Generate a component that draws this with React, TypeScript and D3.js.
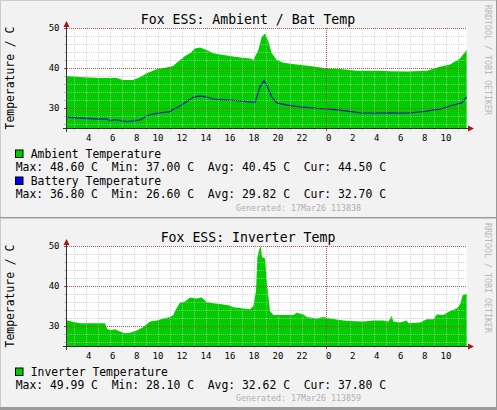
import React from 'react';
import * as d3 from 'd3';

// ---------- data ----------
const ambHours = [2.42, 3.78, 5.17, 6.56, 7.09, 7.92, 8.5, 9.06, 9.9, 10.73, 11.25, 11.84, 12.25, 12.67, 13.09, 13.5, 14.06, 14.61, 15.73, 16.84, 17.67, 17.95, 18.36, 18.65, 18.92, 19.2, 19.48, 19.9, 20.45, 21.56, 22.67, 24.06, 25.17, 26.56, 28.5, 29.34, 30.73, 32.4, 33.5, 34.34, 35.17, 35.72];
const ambTemp = [38.0, 37.7, 37.5, 37.5, 37.0, 37.0, 37.7, 38.7, 39.7, 40.1, 40.5, 42.0, 43.0, 43.7, 44.9, 45.1, 44.5, 43.7, 43.1, 42.6, 42.4, 42.0, 44.5, 47.8, 48.6, 46.6, 43.7, 42.0, 41.3, 40.9, 40.5, 39.9, 39.75, 39.3, 39.3, 39.2, 39.1, 39.3, 40.3, 40.9, 42.4, 44.5];

const batHours = [2.42, 3.23, 5.17, 5.73, 6.01, 6.42, 7.39, 7.95, 8.5, 9.06, 9.61, 10.17, 11.0, 11.28, 11.84, 12.39, 12.95, 13.5, 14.06, 14.61, 15.73, 16.84, 17.39, 18.09, 18.5, 18.84, 19.12, 19.48, 19.9, 20.73, 21.84, 23.23, 24.34, 25.73, 26.84, 27.95, 29.34, 30.73, 32.12, 33.5, 34.61, 35.31, 35.72];
const batTemp = [27.8, 27.5, 27.25, 27.25, 26.8, 27.1, 26.6, 26.8, 27.0, 28.0, 28.5, 28.8, 29.1, 29.7, 30.5, 31.6, 32.7, 33.0, 32.8, 32.2, 32.0, 31.8, 31.6, 31.4, 35.3, 36.8, 35.3, 32.8, 31.3, 30.75, 30.3, 29.9, 29.7, 29.25, 28.8, 28.7, 28.8, 28.7, 29.1, 29.7, 30.75, 31.3, 32.7];

const invHours = [2.42, 2.81, 3.5, 5.17, 5.59, 5.78, 6.14, 6.42, 6.84, 7.25, 7.67, 8.23, 8.78, 9.34, 9.9, 10.45, 11.0, 11.28, 11.42, 11.84, 12.25, 12.67, 13.22, 13.64, 14.06, 14.61, 15.17, 16.0, 16.28, 17.12, 17.67, 17.95, 18.17, 18.28, 18.45, 18.56, 18.67, 18.92, 19.06, 19.34, 19.61, 20.45, 21.28, 21.56, 22.12, 22.39, 23.23, 23.78, 24.34, 25.45, 26.0, 27.12, 27.95, 28.78, 29.2, 29.48, 29.61, 30.17, 30.73, 30.86, 31.84, 32.39, 32.95, 33.23, 33.78, 34.34, 34.89, 35.17, 35.39, 35.72];
const invTemp = [31.4, 31.1, 30.7, 30.7, 30.7, 29.2, 29.0, 29.2, 28.6, 28.2, 28.3, 28.9, 29.75, 31.1, 31.4, 31.85, 32.25, 32.75, 33.75, 35.85, 36.1, 37.1, 36.85, 37.1, 36.0, 35.7, 35.5, 35.1, 34.7, 34.4, 34.2, 35.0, 38.75, 47.1, 49.2, 49.99, 47.25, 46.9, 41.25, 33.75, 32.75, 32.75, 32.75, 33.3, 32.9, 32.25, 31.85, 32.25, 31.9, 31.4, 31.25, 31.1, 31.4, 31.4, 31.1, 32.5, 31.1, 30.85, 31.4, 30.7, 30.85, 31.7, 31.7, 32.9, 32.75, 33.75, 34.4, 35.4, 37.7, 38.1];

const ambStats = [48.6, 37.0, 40.45, 44.5];
const batStats = [36.8, 26.6, 29.82, 32.7];
const invStats = [49.99, 28.1, 32.62, 37.8];
const statNames = ['Max', 'Min', 'Avg', 'Cur'];

const timeDomain = [2.42, 35.75];
const labelHours = d3.range(4, 36, 2);
const minorHours = d3.range(3, 36, 1);
const yDomain = [25, 50];
const yMajor = [30, 40, 50];
const yMinor = [26, 28, 32, 34, 36, 38, 42, 44, 46, 48];

const FONT = "'DejaVu Sans Mono', monospace";
const W = 497;

const x = d3.scaleLinear().domain(timeDomain).range([67, 467]);
const y = d3.scaleLinear().domain(yDomain).range([128, 28]);

const statLine = (s: number[]) =>
  s.map((v, i) => `${statNames[i]}: ${v.toFixed(2)} C`).join('\u00a0\u00a0');

type Series = { name: string; color: string; kind: 'area' | 'line'; hours: number[]; temps: number[]; stats: number[] };

const pre: React.CSSProperties = { whiteSpace: 'pre' };

function Panel({ off, h, title, series, id, generated, genY }: { off: number; h: number; title: string; series: Series[]; id: string; generated: string; genY: number }) {
  const area = d3.area<[number, number]>().x(d => x(d[0])).y0(y(25)).y1(d => y(d[1]));
  const line = d3.line<[number, number]>().x(d => x(d[0])).y(d => y(d[1]));
  const px = (v: number) => Math.round(v) + 0.5;
  const legendRows = [157.8, 171.3, 184.8, 198.3];
  return (
    <g transform={`translate(0,${off})`}>
      <rect x={0} y={0} width={W} height={h} fill="#f2f2f2" />
      <line x1={0} y1={0.5} x2={W} y2={0.5} stroke="#cbcbcb" />
      <line x1={0.5} y1={0} x2={0.5} y2={h} stroke="#cbcbcb" />
      <line x1={W - 0.5} y1={0} x2={W - 0.5} y2={h} stroke="#999" />
      <line x1={0} y1={h - 0.5} x2={W} y2={h - 0.5} stroke="#999" />
      <text x={248} y={24} fontFamily={FONT} fontSize={13.2} textAnchor="middle" fill="#000">{title}</text>
      <text transform={`translate(14,78) rotate(-90)`} fontFamily={FONT} fontSize={11.4} textAnchor="middle" fill="#000">Temperature / C</text>
      <text transform={`translate(485,5) rotate(90)`} fontFamily={FONT} fontSize={8.3} fill="#b8b8b8">RRDTOOL / TOBI OETIKER</text>
      <defs>
        <clipPath id={id}>
          <rect x={67} y={28} width={400} height={100} />
        </clipPath>
      </defs>
      <rect x={67} y={28} width={400} height={100} fill="#fff" />
      <g clipPath={`url(#${id})`}>
        {series.map((s, i) => {
          const pts = d3.zip(s.hours, s.temps) as [number, number][];
          return s.kind === 'area'
            ? <path key={i} d={area(pts) || ''} fill={s.color} />
            : <path key={i} d={line(pts) || ''} fill="none" stroke="#0d2d9e" strokeWidth={1.3} />;
        })}
      </g>
      {/* minor grid */}
      <g stroke="#c0c0c0" strokeOpacity={0.65} strokeDasharray="1,1" shapeRendering="crispEdges">
        {minorHours.filter(hh => hh !== 24).map(hh => (
          <line key={'v' + hh} x1={px(x(hh))} x2={px(x(hh))} y1={28} y2={128} />
        ))}
        {yMinor.map(v => (
          <line key={'h' + v} x1={67} x2={467} y1={px(y(v))} y2={px(y(v))} />
        ))}
      </g>
      <g stroke="#c0c0c0" shapeRendering="crispEdges">
        {minorHours.filter(hh => hh !== 24).map(hh => (
          <line key={'tv' + hh} x1={px(x(hh))} x2={px(x(hh))} y1={128} y2={130} />
        ))}
        {yMinor.map(v => (
          <line key={'th' + v} x1={64} x2={67} y1={px(y(v))} y2={px(y(v))} />
        ))}
      </g>
      {/* major grid */}
      <g stroke="#c03030" strokeOpacity={0.85} strokeDasharray="1,1" shapeRendering="crispEdges">
        <line x1={px(x(24))} x2={px(x(24))} y1={28} y2={128} />
        {yMajor.map(v => (
          <line key={'m' + v} x1={67} x2={467} y1={px(y(v))} y2={px(y(v))} />
        ))}
      </g>
      <g stroke="#c03030" shapeRendering="crispEdges">
        <line x1={px(x(24))} x2={px(x(24))} y1={128} y2={131} />
        {yMajor.map(v => (
          <line key={'mt' + v} x1={64} x2={67} y1={px(y(v))} y2={px(y(v))} />
        ))}
      </g>
      {/* axes */}
      <g stroke="#303030" shapeRendering="crispEdges">
        <line x1={66.5} x2={66.5} y1={26} y2={132} />
        <line x1={63} x2={470} y1={128.5} y2={128.5} />
      </g>
      <path d="M63.5,27 L66.5,21 L69.5,27 Z" fill="#a01818" />
      <path d="M468,125.5 L474,128.5 L468,131.5 Z" fill="#a01818" />
      {/* tick labels */}
      <g fontFamily={FONT} fontSize={9} fill="#000">
        {yMajor.map(v => (
          <text key={'yl' + v} x={59.5} y={y(v) + 3.4} textAnchor="end">{v}</text>
        ))}
        {labelHours.map(hh => (
          <text key={'xl' + hh} x={x(hh)} y={140.6} textAnchor="middle" style={pre} xmlSpace="preserve">{String(hh % 24).padStart(2, '\u00a0')}</text>
        ))}
      </g>
      {/* legend */}
      <g fontFamily={FONT} fontSize={11.4} fill="#000">
        {series.map((s, i) => (
          <g key={'lg' + i}>
            <rect x={15.5} y={legendRows[i * 2] - 7.8} width={7.5} height={7.5} fill={s.kind === 'area' ? s.color : '#0000ee'} stroke="#000" strokeWidth={1} />
            <text x={30.7} y={legendRows[i * 2]} style={pre}>{s.name}</text>
            <text x={15.7} y={legendRows[i * 2 + 1]} style={pre} xmlSpace="preserve">{statLine(s.stats)}</text>
          </g>
        ))}
      </g>
      <text x={236} y={genY} fontFamily={FONT} fontSize={8.3} fill="#b0b0b0">{generated}</text>
    </g>
  );
}

export default function App() {
  const s1: Series[] = [
    { name: 'Ambient Temperature', color: '#00cc00', kind: 'area', hours: ambHours, temps: ambTemp, stats: ambStats },
    { name: 'Battery Temperature', color: '#0000ff', kind: 'line', hours: batHours, temps: batTemp, stats: batStats },
  ];
  const s2: Series[] = [
    { name: 'Inverter Temperature', color: '#00cc00', kind: 'area', hours: invHours, temps: invTemp, stats: invStats },
  ];
  return (
    <svg width={W} height={410} style={{ position: 'absolute', left: 0, top: 0, display: 'block' }}>
      <Panel off={0} h={218} id="c1" title="Fox ESS: Ambient / Bat Temp" series={s1} generated="Generated: 17Mar26 113838" genY={210.8} />
      <Panel off={218} h={192} id="c2" title="Fox ESS: Inverter Temp" series={s2} generated="Generated: 17Mar26 113859" genY={182.6} />
      <rect x={0} y={407} width={W} height={3} fill="#9a9a9a" />
    </svg>
  );
}
